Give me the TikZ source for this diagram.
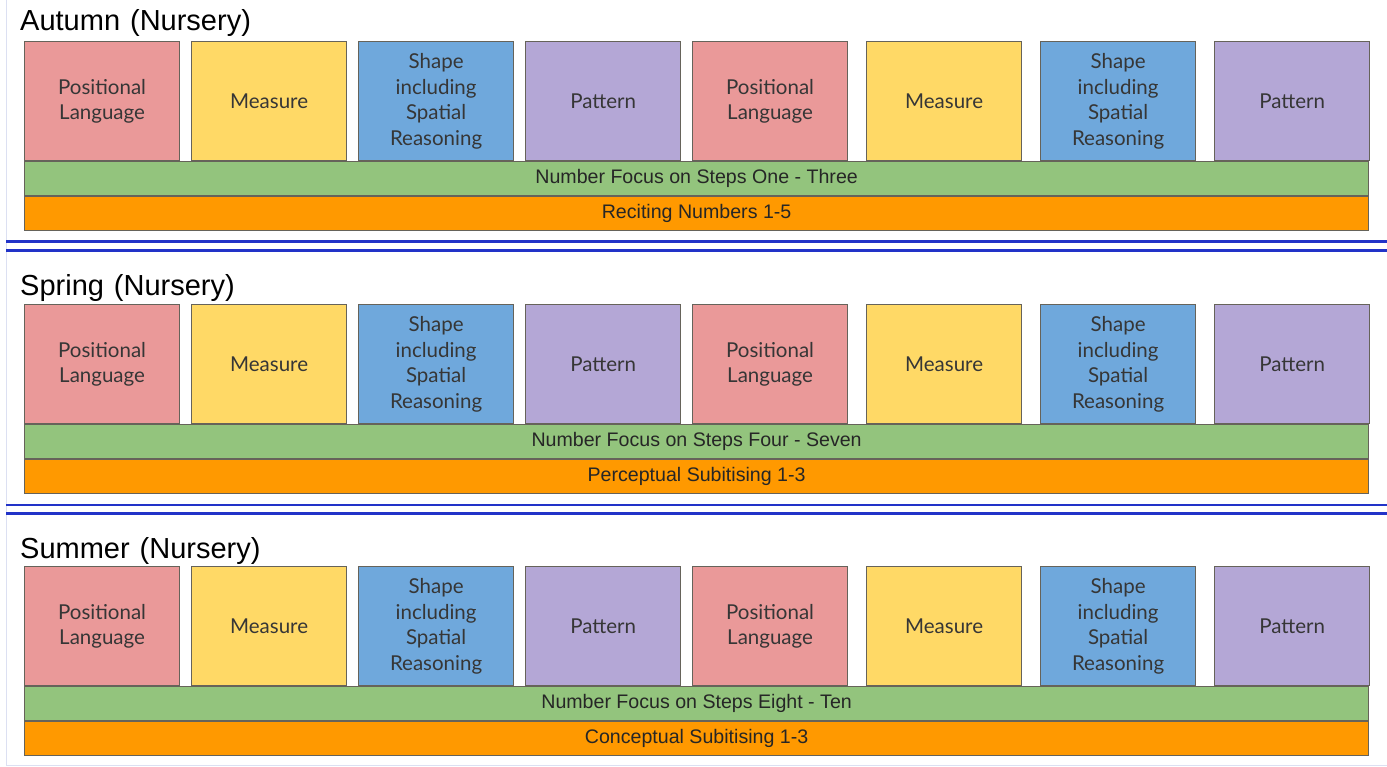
\documentclass[tikz,border=0pt]{standalone}
\usepackage{fontspec}
\setmainfont{Liberation Sans}
\newfontfamily\boxfont{Lato}
\definecolor{cpink}{HTML}{EA9999}
\definecolor{cyellow}{HTML}{FFD966}
\definecolor{cblue}{HTML}{6FA8DC}
\definecolor{cpurple}{HTML}{B4A7D6}
\definecolor{cgreen}{HTML}{93C47D}
\definecolor{corange}{HTML}{FF9900}
\definecolor{cedge}{HTML}{66635A}
\definecolor{ctext}{HTML}{363636}
\definecolor{csep}{HTML}{2233C8}
\definecolor{cframe}{HTML}{DCE0F2}
\newcommand\PosLang{Positional\\Language}
\newcommand\ShapeTxt{Shape\\including\\Spatial\\Reasoning}
\tikzset{
  cellbox/.style={draw=cedge, line width=1.2pt, anchor=north west, minimum width=155pt, minimum height=119pt, inner sep=0pt, align=center, text=ctext, font=\boxfont\fontsize{20.5}{25.5}\selectfont},
  barbox/.style={draw=cedge, line width=1.2pt, anchor=north west, minimum width=1344pt, minimum height=34pt, inner sep=0pt, text=black!85, font=\fontsize{19.6}{22}\selectfont},
  titletext/.style={anchor=base west, inner sep=0pt, font=\fontsize{29}{32}\selectfont},
  sepline/.style={draw=csep, line width=2.6pt}
}
\begin{document}
\begin{tikzpicture}[x=1pt,y=-1pt]
\useasboundingbox (0,0) rectangle (1387,766);
\fill[white] (0,0) rectangle (1387,766);
\draw[cframe, line width=1pt] (6,0) -- (6,765.5) -- (1387,765.5);
\foreach \p/\top/\ty/\season/\green/\orange in {
  1/41/30/Autumn/Number Focus on Steps One - Three/Reciting Numbers 1-5,
  2/304/295/Spring/Number Focus on Steps Four - Seven/Perceptual Subitising 1-3,
  3/566/558/Summer/Number Focus on Steps Eight - Ten/Conceptual Subitising 1-3}{
  \node[titletext] (t\p) at (20,\ty) {\season\hspace{10pt}(Nursery)};
  \foreach \i/\x/\c/\t in {1/24/cpink/\PosLang, 2/191/cyellow/Measure, 3/358/cblue/\ShapeTxt, 4/525/cpurple/Pattern, 5/692/cpink/\PosLang, 6/866/cyellow/Measure, 7/1040/cblue/\ShapeTxt, 8/1214/cpurple/Pattern}{
    \node[cellbox, fill=\c] (p\p b\i) at (\x,\top) {\t};
  }
  \node[barbox, fill=cgreen] (p\p g) at (24,\top+120) {\green};
  \node[barbox, fill=corange] (p\p o) at (24,\top+155) {\orange};
}
\draw[sepline] (6,241.5) -- (1387,241.5);
\draw[sepline] (6,250.5) -- (1387,250.5);
\draw[sepline] (6,505) -- (1387,505);
\draw[sepline] (6,513.5) -- (1387,513.5);
\end{tikzpicture}
\end{document}
